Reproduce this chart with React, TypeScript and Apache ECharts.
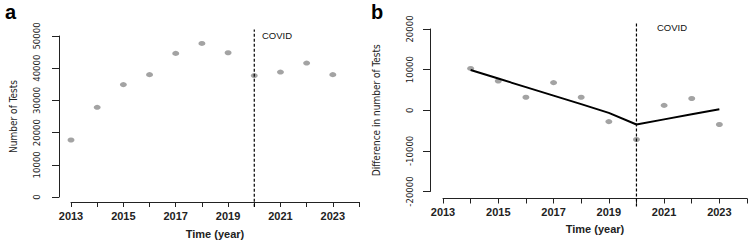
import React, { useEffect, useRef } from "react";
import * as echarts from "echarts";

const years = [2013, 2014, 2015, 2016, 2017, 2018, 2019, 2020, 2021, 2022, 2023];
const testsA = [17700, 27850, 34900, 38000, 44600, 47700, 44800, 37700, 38800, 41600, 38000];
const diffYears = [2014, 2015, 2016, 2017, 2018, 2019, 2020, 2021, 2022, 2023];
const diffB = [10300, 7200, 3200, 6800, 3200, -2800, -7200, 1200, 2900, -3500];
const fitB = [9900, 7800, 5700, 3600, 1500, -650, -3500, -2250, -1000, 250];
const covidYear = 2020;
const covidSpanA = [-3000, 52000];
const covidSpanB = [-23700, 21800];

const NARROW = "'Liberation Sans Narrow', 'DejaVu Sans Condensed', 'Liberation Sans', sans-serif";
const SANS = "'Liberation Sans', Arial, Helvetica, sans-serif";
const AX = "#222";
const DOT = "#8c8c8c";

function xAxisCfg(gridIndex: number, offset: number, gap: number, margin: number) {
  return {
    type: "value",
    gridIndex,
    min: 2013,
    max: 2024,
    interval: 1,
    offset,
    splitLine: { show: false },
    axisLine: { show: true, onZero: false, lineStyle: { color: AX, width: 1 } },
    axisTick: { show: true, length: 5, lineStyle: { color: AX } },
    axisLabel: {
      margin,
      color: AX,
      fontFamily: SANS,
      fontWeight: "bold",
      fontSize: 11,
      showMinLabel: true,
      showMaxLabel: true,
      formatter: (v: number) => (v % 2 === 1 && v <= 2023 ? String(v) : ""),
    },
    name: "Time (year)",
    nameLocation: "middle",
    nameGap: gap,
    nameTextStyle: { color: AX, fontFamily: SANS, fontWeight: "bold", fontSize: 11 },
  };
}

function yAxisCfg(gridIndex: number, min: number, max: number, offset: number, name: string, gap: number, margin: number) {
  return {
    type: "value",
    gridIndex,
    min,
    max,
    interval: 10000,
    offset,
    splitLine: { show: false },
    axisLine: { show: true, onZero: false, lineStyle: { color: AX, width: 1 } },
    axisTick: { show: true, length: 7, lineStyle: { color: AX } },
    axisLabel: {
      rotate: 90,
      margin,
      color: AX,
      fontFamily: NARROW,
      fontSize: 9.5,
      showMinLabel: true,
      showMaxLabel: true,
      formatter: (v: number) => String(v),
    },
    name,
    nameLocation: "middle",
    nameGap: gap,
    nameTextStyle: { color: AX, fontFamily: NARROW, fontSize: 10 },
  };
}

export default function App() {
  const ref = useRef<HTMLDivElement>(null);
  useEffect(() => {
    document.body.style.margin = "0";
    if (!ref.current) return;
    const chart = echarts.init(ref.current, null, { renderer: "svg" });
    chart.setOption({
      animation: false,
      backgroundColor: "#ffffff",
      grid: [
        { left: 71, right: 391, top: 36, bottom: 50 },
        { left: 443, right: -17, top: 29, bottom: 55.5 },
      ],
      xAxis: [xAxisCfg(0, 5, 26, 8), xAxisCfg(1, 7, 25, 8)],
      yAxis: [
        yAxisCfg(0, 0, 50000, 12, "Number of Tests", 41, 18),
        yAxisCfg(1, -20000, 20000, 13, "Difference in number of Tests", 49, 16),
      ],
      graphic: [
        { type: "text", left: 5, top: 2, style: { text: "a", font: `bold 20px ${SANS}`, fill: "#000" } },
        { type: "text", left: 371, top: 2, style: { text: "b", font: `bold 20px ${SANS}`, fill: "#000" } },
        { type: "text", left: 262, top: 30, style: { text: "COVID", font: `9.5px ${SANS}`, fill: "#111" } },
        { type: "text", left: 657, top: 22, style: { text: "COVID", font: `9.5px ${SANS}`, fill: "#111" } },
      ],
      series: [
        {
          type: "scatter",
          xAxisIndex: 0,
          yAxisIndex: 0,
          symbol: "circle",
          symbolSize: [7, 5],
          itemStyle: { color: DOT },
          data: years.map((y, i) => [y, testsA[i]]),
        },
        {
          type: "line",
          xAxisIndex: 0,
          yAxisIndex: 0,
          clip: false,
          symbol: "none",
          lineStyle: { color: "#000", width: 1.2, type: [3, 2] },
          data: covidSpanA.map((v) => [covidYear, v]),
        },
        {
          type: "scatter",
          xAxisIndex: 1,
          yAxisIndex: 1,
          symbol: "circle",
          symbolSize: [7, 5],
          itemStyle: { color: DOT },
          data: diffYears.map((y, i) => [y, diffB[i]]),
        },
        {
          type: "line",
          xAxisIndex: 1,
          yAxisIndex: 1,
          symbol: "none",
          lineStyle: { color: "#000", width: 2 },
          data: diffYears.map((y, i) => [y, fitB[i]]),
        },
        {
          type: "line",
          xAxisIndex: 1,
          yAxisIndex: 1,
          clip: false,
          symbol: "none",
          lineStyle: { color: "#000", width: 1.2, type: [3, 2] },
          data: covidSpanB.map((v) => [covidYear, v]),
        },
      ],
    });
    return () => chart.dispose();
  }, []);
  return <div ref={ref} style={{ width: 750, height: 247 }} />;
}
